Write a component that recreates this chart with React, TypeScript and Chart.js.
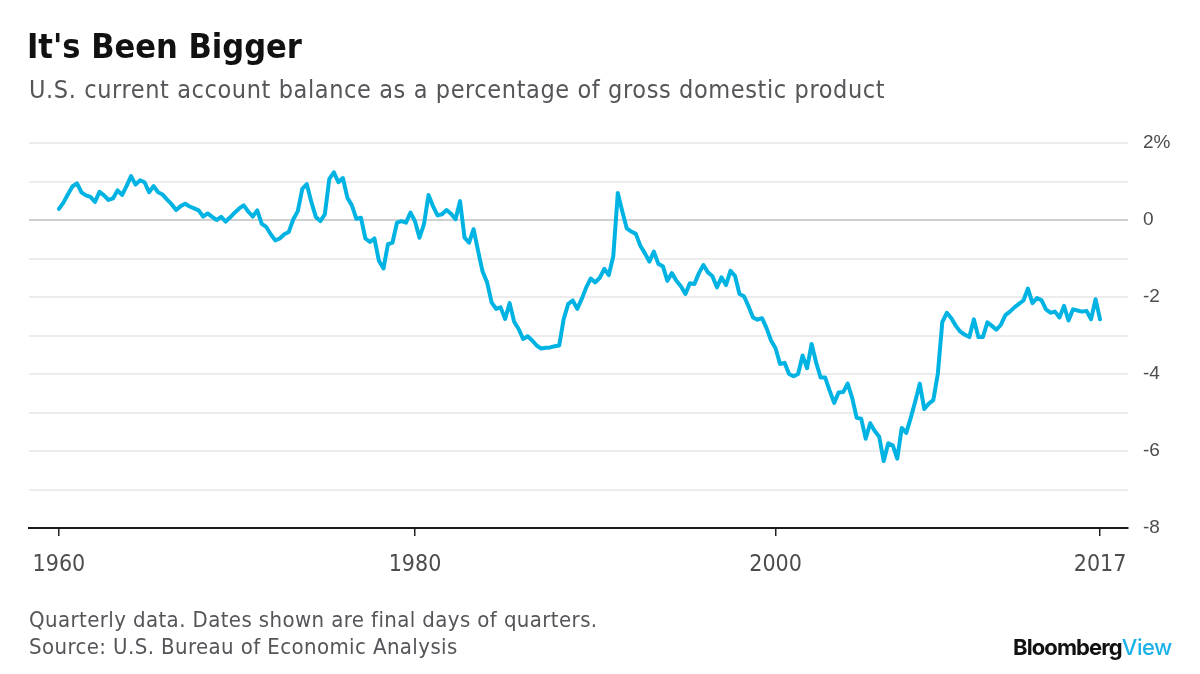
import React, { useEffect, useRef } from "react";
import { Chart, registerables } from "chart.js";

Chart.register(...registerables);

// Quarterly data, 1960 Q1 .. 2017 Q4 (percent of GDP)
const firstYear = 1960;
const balance: number[] = [
  // 1960-1964
  0.29, 0.45, 0.67, 0.87, 0.95, 0.72, 0.64, 0.6, 0.47, 0.73, 0.64, 0.52, 0.56, 0.77, 0.65, 0.88, 1.14, 0.92, 1.03, 0.98,
  // 1965-1969
  0.72, 0.88, 0.72, 0.66, 0.53, 0.41, 0.26, 0.36, 0.42, 0.35, 0.3, 0.25, 0.09, 0.17, 0.08, 0.0, 0.08, -0.04, 0.07, 0.19,
  // 1970-1974
  0.3, 0.38, 0.22, 0.09, 0.25, -0.1, -0.18, -0.37, -0.53, -0.48, -0.37, -0.31, 0.02, 0.23, 0.81, 0.93, 0.47, 0.08, -0.03, 0.15,
  // 1975-1979
  1.07, 1.24, 0.98, 1.09, 0.58, 0.38, 0.03, 0.06, -0.48, -0.57, -0.48, -1.06, -1.26, -0.63, -0.59, -0.07, -0.03, -0.07, 0.19, -0.03,
  // 1980-1984
  -0.46, -0.11, 0.65, 0.36, 0.12, 0.15, 0.26, 0.16, 0.02, 0.49, -0.46, -0.59, -0.24, -0.8, -1.34, -1.62, -2.14, -2.31, -2.27, -2.57,
  // 1985-1989
  -2.16, -2.64, -2.83, -3.09, -3.02, -3.13, -3.26, -3.34, -3.32, -3.31, -3.28, -3.26, -2.57, -2.18, -2.09, -2.31, -2.05, -1.75, -1.52, -1.62,
  // 1990-1994
  -1.5, -1.27, -1.43, -0.94, 0.7, 0.22, -0.22, -0.3, -0.36, -0.67, -0.86, -1.08, -0.82, -1.14, -1.2, -1.58, -1.38, -1.58, -1.72, -1.92,
  // 1995-1999
  -1.64, -1.66, -1.38, -1.17, -1.36, -1.46, -1.75, -1.49, -1.69, -1.32, -1.45, -1.92, -1.98, -2.24, -2.53, -2.59, -2.55, -2.81, -3.13, -3.33,
  // 2000-2004
  -3.74, -3.71, -4.0, -4.06, -4.0, -3.52, -3.85, -3.22, -3.7, -4.09, -4.09, -4.43, -4.75, -4.48, -4.47, -4.25, -4.62, -5.14, -5.16, -5.68,
  // 2005-2009
  -5.28, -5.48, -5.63, -6.26, -5.8, -5.85, -6.2, -5.4, -5.53, -5.14, -4.71, -4.25, -4.91, -4.77, -4.68, -4.0, -2.65, -2.41, -2.55, -2.75,
  // 2010-2014
  -2.9, -2.98, -3.04, -2.58, -3.04, -3.04, -2.66, -2.75, -2.85, -2.72, -2.47, -2.38, -2.27, -2.18, -2.09, -1.78, -2.16, -2.03, -2.08, -2.32,
  // 2015-2017
  -2.41, -2.38, -2.53, -2.23, -2.61, -2.32, -2.35, -2.38, -2.36, -2.58, -2.06, -2.58,
];

const xTickValues = [1960.25, 1980, 2000, 2018];
const xTickLabels = ["1960", "1980", "2000", "2017"];
const yMin = -8;
const yMax = 2;

const narrow = '"Liberation Sans Narrow", "DejaVu Sans Condensed", "Roboto Condensed", sans-serif';
const plain = '"Liberation Sans", "Noto Sans", sans-serif';

export default function App() {
  const ref = useRef<HTMLCanvasElement | null>(null);

  useEffect(() => {
    if (!ref.current) return;
    const points = balance.map((v, i) => ({ x: firstYear + (i + 1) / 4, y: v }));
    const chart = new Chart(ref.current, {
      type: "line",
      data: {
        datasets: [
          {
            data: points,
            borderColor: "#00b3e3",
            borderWidth: 4,
            pointRadius: 0,
            tension: 0,
            borderJoinStyle: "round",
            borderCapStyle: "round",
            fill: false,
          },
        ],
      },
      options: {
        animation: false,
        responsive: false,
        devicePixelRatio: 1,
        layout: { padding: { left: 29, top: 143, right: 0, bottom: 0 } },
        plugins: { legend: { display: false }, tooltip: { enabled: false } },
        scales: {
          x: {
            type: "linear",
            min: 1958.59,
            max: 2019.55,
            afterBuildTicks: (scale: any) => {
              scale.ticks = xTickValues.map((v) => ({ value: v }));
            },
            afterFit: (scale: any) => {
              scale.height = 146;
            },
            ticks: {
              autoSkip: false,
              maxRotation: 0,
              padding: 15,
              color: "#4d4d4f",
              font: { family: narrow, size: 23 },
              callback: (_v: any, idx: number) => xTickLabels[idx],
            },
            grid: {
              drawOnChartArea: false,
              drawTicks: true,
              tickLength: 8,
              color: "#222",
              lineWidth: 1.5,
            },
            border: { display: true, color: "#1a1a1a", width: 2 },
          },
          y: {
            position: "right",
            min: yMin,
            max: yMax,
            afterFit: (scale: any) => {
              scale.width = 72;
            },
            ticks: {
              stepSize: 1,
              autoSkip: false,
              padding: 15,
              color: "#4d4d4f",
              font: { family: plain, size: 19 },
              callback: (v: any) => {
                const n = Number(v);
                if (n % 2 !== 0) return "";
                return n === yMax ? n + "%" : String(n);
              },
            },
            grid: {
              drawTicks: false,
              lineWidth: 2,
              color: (ctx: any) => {
                const v = ctx.tick ? ctx.tick.value : null;
                if (v === yMin) return "rgba(0,0,0,0)";
                if (v === 0) return "#d0d0d0";
                return "#ececec";
              },
            },
            border: { display: false },
          },
        },
      },
    });
    return () => chart.destroy();
  }, []);

  const abs = (top: number, left: number): React.CSSProperties => ({
    position: "absolute",
    top,
    left,
    margin: 0,
    lineHeight: 1,
    whiteSpace: "nowrap",
  });

  return (
    <div style={{ position: "fixed", left: 0, top: 0, width: 1200, height: 674, background: "#fff", overflow: "hidden" }}>
      <canvas ref={ref} width={1200} height={674} style={{ position: "absolute", left: 0, top: 0, width: 1200, height: 674 }} />
      <div style={{ ...abs(29, 27), fontFamily: narrow, fontWeight: 700, fontSize: 34, color: "#111" }}>It's Been Bigger</div>
      <div style={{ ...abs(77, 29), fontFamily: narrow, fontSize: 25, letterSpacing: 0.6, color: "#55555a" }}>
        U.S. current account balance as a percentage of gross domestic product
      </div>
      <div style={{ ...abs(609, 29), fontFamily: narrow, fontSize: 22, letterSpacing: 0.4, color: "#55555a" }}>
        Quarterly data. Dates shown are final days of quarters.
      </div>
      <div style={{ ...abs(636, 29), fontFamily: narrow, fontSize: 22, letterSpacing: 0.4, color: "#55555a" }}>
        Source: U.S. Bureau of Economic Analysis
      </div>
      <div style={{ ...abs(636, 1013), fontFamily: '"Inter", "Noto Sans", sans-serif', fontWeight: 700, fontSize: 22, letterSpacing: -0.9, color: "#111" }}>
        Bloomberg<span style={{ color: "#1ab0e8", fontWeight: 500, letterSpacing: -0.5 }}>View</span>
      </div>
    </div>
  );
}
